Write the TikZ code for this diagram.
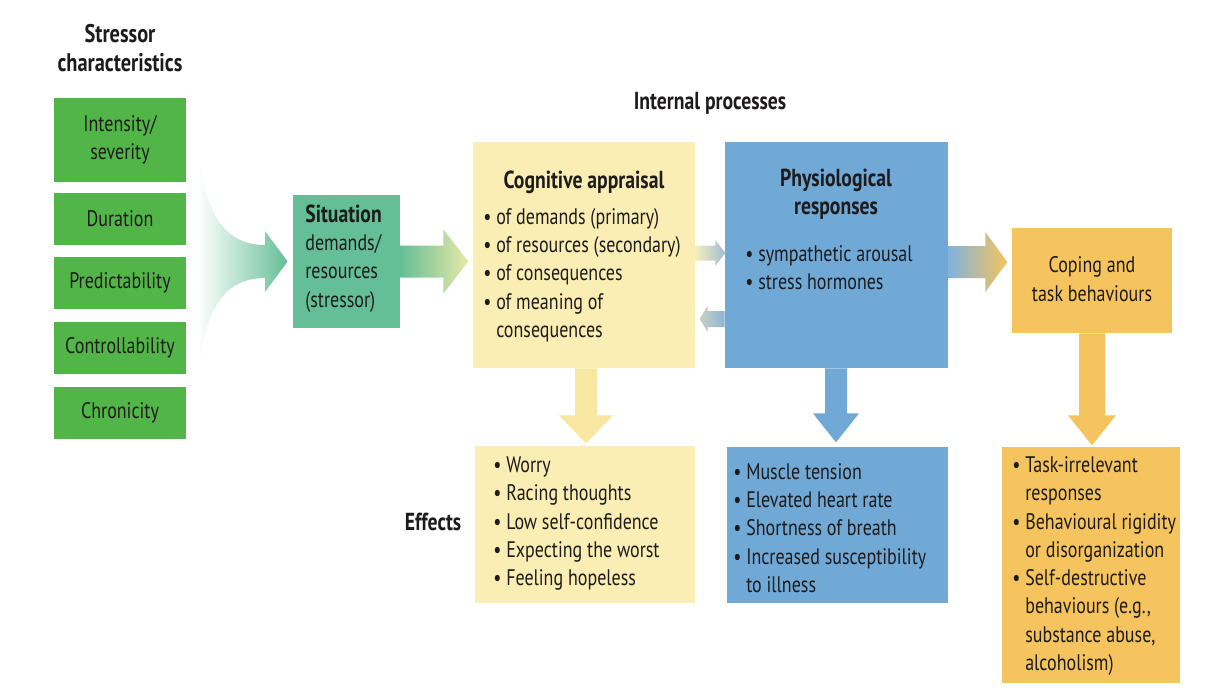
\documentclass[tikz,border=0pt]{standalone}
\usepackage{fontspec}
\setmainfont{PT Sans}[FakeStretch=0.8]
\usetikzlibrary{positioning,calc}

\definecolor{inkcol}{RGB}{30,27,28}
\definecolor{stressgreen}{RGB}{82,181,72}
\definecolor{sitteal}{RGB}{100,190,150}
\definecolor{cogyellow}{RGB}{250,238,180}
\definecolor{physblue}{RGB}{112,168,214}
\definecolor{copeorange}{RGB}{245,196,95}
\definecolor{cogarrow}{RGB}{247,231,160}

\newdimen\pxu
\pxu=0.02cm

\tikzset{
	bx/.style 2 args={inner sep=0pt, minimum width=#1\pxu, minimum height=#2\pxu},
	txt/.style={inner sep=0pt, align=left, text=inkcol, font=\fontsize{12.8}{16.1}\selectfont},
	ttl/.style={inner sep=0pt, align=center, text=inkcol, font=\fontsize{14}{16.1}\selectfont\bfseries},
	greenbox/.style={bx={132}{52}, fill=stressgreen, txt, align=center},
}
\newcommand{\hng}{\phantom{• }}

\begin{document}
\begin{tikzpicture}[x=0.02cm,y=-0.02cm]
	\useasboundingbox[fill=white] (0,0) rectangle (1205,698);

	% headings
	\node[ttl, font=\fontsize{14.5}{16.1}\selectfont\bfseries] (stresshead) at (120,48) {Stressor\\characteristics};
	\node[ttl] (inthead) at (710,103) {Internal processes};
	\node[ttl] (effhead) at (433,522) {Effects};

	% stressor characteristics
	\node[greenbox, bx={132}{84}] (intens) at (120,140) {Intensity/\\severity};
	\node[greenbox] (durat) at (120,219) {Duration};
	\node[greenbox] (predict) at (120,283) {Predictability};
	\node[greenbox] (control) at (120,347.5) {Controllability};
	\node[greenbox] (chron) at (120,412.5) {Chronicity};

	% boxes
	\node[bx={107}{133}, fill=sitteal] (sit) at (346.5,261.5) {};
	\node[bx={222}{226}, fill=cogyellow] (cog) at (584,255) {};
	\node[bx={223}{226}, fill=physblue] (phys) at (836.5,255) {};
	\node[bx={160}{105}, fill=copeorange] (cope) at (1092,280.5) {};
	\node[bx={220}{157}, fill=cogyellow] (cogfx) at (585,524.5) {};
	\node[bx={221}{156}, fill=physblue] (physfx) at (837.5,525) {};
	\node[bx={178}{236}, fill=copeorange] (copefx) at (1091,565) {};

	% arrows
	\shade[left color=white, right color=sitteal]
		(198,138) .. controls (202,210) and (222,245) .. (265,245)
		-- (265,231) -- ($(sit.west)+(-5,0)$) -- (265,292) -- (265,278)
		.. controls (222,278) and (202,313) .. (198,385) -- cycle;
	\shade[left color=sitteal, right color={rgb,255:red,232;green,233;blue,168}]
		(sit.east) ++(0,-16) -- ++(43,0) -- ++(0,-16) -- ++(25,32)
		-- ++(-25,32) -- ++(0,-16) -- ++(-43,0) -- cycle;
	\shade[left color={rgb,255:red,246;green,236;blue,188}, right color={rgb,255:red,160;green,190;blue,212}]
		(cog.east |- 0,253) ++(0,-7.5) -- ++(20,0) -- ++(0,-5.5) -- ++(10,13)
		-- ++(-10,13) -- ++(0,-5.5) -- ++(-20,0) -- cycle;
	\shade[left color={rgb,255:red,200;green,210;blue,196}, right color={rgb,255:red,140;green,180;blue,215}]
		(phys.west |- 0,319) ++(0,-8) -- ++(-17,0) -- ++(0,-5) -- ++(-8,13)
		-- ++(8,13) -- ++(0,-5) -- ++(17,0) -- cycle;
	\shade[left color={rgb,255:red,130;green,178;blue,220}, right color=copeorange]
		(phys.east |- 0,262) ++(0,-16) -- ++(37,0) -- ++(0,-14) -- ++(22,30)
		-- ++(-22,30) -- ++(0,-14) -- ++(-37,0) -- cycle;
	\fill[cogarrow] (cog.south) ++(-9,0) -- ++(0,47) -- ++(-16,0) -- ++(27,28)
		-- ++(27,-28) -- ++(-16,0) -- ++(0,-47) -- cycle;
	\fill[physblue] (phys.south) ++(-11.5,0) -- ++(0,45) -- ++(-12,0) -- ++(23,29)
		-- ++(23,-29) -- ++(-12,0) -- ++(0,-45) -- cycle;
	\fill[copeorange] (cope.south) ++(-13,0) -- ++(0,82) -- ++(-11,0) -- ++(24,30)
		-- ++(24,-30) -- ++(-11,0) -- ++(0,-82) -- cycle;

	% texts
	\node[txt, anchor=west] (sittxt) at (305,258.5) {{\fontsize{14}{16.1}\selectfont\bfseries Situation}\\demands/\\resources\\(stressor)};
	\node[ttl] (cogttl) at (584,182) {Cognitive appraisal};
	\node[txt, anchor=west] (cogtxt) at (483,275) {• of demands (primary)\\• of resources (secondary)\\• of consequences\\• of meaning of\\\hng consequences};
	\node[ttl] (physttl) at (836,194) {Physiological\\responses};
	\node[txt, anchor=west] (phystxt) at (745,268) {• sympathetic arousal\\• stress hormones};
	\node[txt, align=center] (copetxt) at (1092,279) {Coping and\\task behaviours};
	\node[txt, anchor=west] (cogfxtxt) at (493,523.5) {• Worry\\• Racing thoughts\\• Low self-confidence\\• Expecting the worst\\• Feeling hopeless};
	\node[txt, anchor=west] (physfxtxt) at (733,528) {• Muscle tension\\• Elevated heart rate\\• Shortness of breath\\• Increased susceptibility\\\hng to illness};
	\node[txt, anchor=west] (copefxtxt) at (1012,566) {• Task-irrelevant\\\hng responses\\• Behavioural rigidity\\\hng or disorganization\\• Self-destructive\\\hng behaviours (e.g.,\\\hng substance abuse,\\\hng alcoholism)};
\end{tikzpicture}
\end{document}
